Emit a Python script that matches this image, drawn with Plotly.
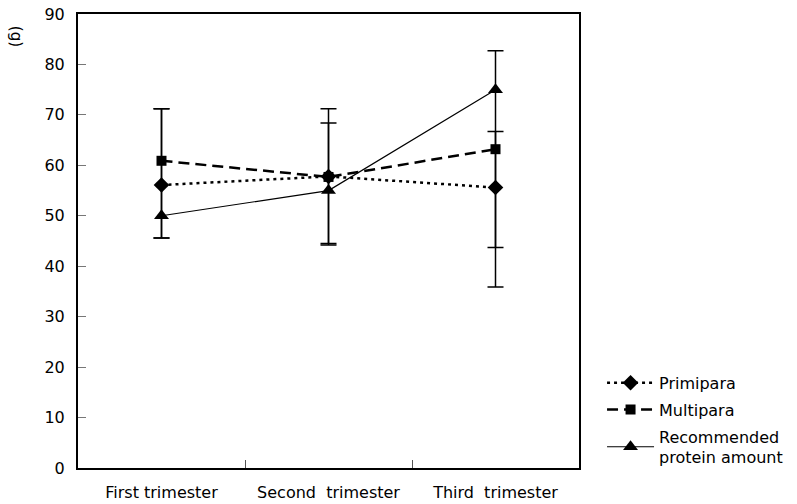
import plotly.graph_objects as go

categories = ["First trimester", "Second  trimester", "Third  trimester"]

primipara = [56.1, 57.8, 55.6]
primipara_plus = [15.1, 10.6, 11.1]
primipara_minus = [10.5, 13.3, 19.7]

multipara = [60.9, 57.7, 63.2]
multipara_plus = [10.3, 13.5, 19.5]
multipara_minus = [15.3, 13.5, 19.5]

recommended = [50, 55, 75]

FONT = "DejaVu Sans, Liberation Sans, Arial, sans-serif"

fig = go.Figure()

fig.add_trace(go.Scatter(
    x=categories, y=primipara, name="Primipara", mode="lines+markers",
    legendgroup="p",
    line=dict(color="black", width=2.5, dash="3px,4px"),
    marker=dict(symbol="diamond", size=12, color="black"),
    error_y=dict(type="data", symmetric=False, array=primipara_plus,
                 arrayminus=primipara_minus, color="black", thickness=1.5, width=8),
))
fig.add_trace(go.Scatter(
    x=categories, y=multipara, name="Multipara", mode="lines+markers",
    legendgroup="m",
    line=dict(color="black", width=2.5, dash="11px,6px"),
    marker=dict(symbol="square", size=10, color="black"),
    error_y=dict(type="data", symmetric=False, array=multipara_plus,
                 arrayminus=multipara_minus, color="black", thickness=1.5, width=8),
))
fig.add_trace(go.Scatter(
    x=categories, y=recommended, name="Recommended<br>protein amount",
    mode="lines+markers", legendgroup="r",
    line=dict(color="black", width=1.2),
    marker=dict(symbol="triangle-up", size=13, color="black"),
))

fig.update_layout(
    width=797, height=504,
    margin=dict(l=78, r=218, t=14, b=36, autoexpand=False),
    paper_bgcolor="white", plot_bgcolor="white",
    font=dict(family=FONT, size=16, color="black"),
    showlegend=True,
    legend=dict(x=1.046, xanchor="left", y=0.225, yanchor="top",
                font=dict(size=16), traceorder="grouped", tracegroupgap=3,
                itemwidth=47, bgcolor="rgba(0,0,0,0)"),
    xaxis=dict(
        type="category", range=[-0.5, 2.5],
        showline=True, linecolor="black", linewidth=2, mirror=True,
        ticks="inside", ticklen=8, tickcolor="#555", tickwidth=1,
        tickson="boundaries", showgrid=False, zeroline=False,
        tickfont=dict(size=16), automargin=False, ticklabelstandoff=9,
    ),
    yaxis=dict(
        range=[0, 90], dtick=10,
        showline=True, linecolor="black", linewidth=2, mirror=True,
        ticks="inside", ticklen=8, tickcolor="#777", tickwidth=1,
        showgrid=False, zeroline=False, tickfont=dict(size=16),
        ticklabelstandoff=8, automargin=False,
    ),
    annotations=[dict(
        text="(g)", xref="paper", yref="paper", x=-0.124, y=0.95,
        xanchor="center", yanchor="middle",
        showarrow=False, textangle=90, font=dict(size=15),
    )],
)

fig.write_html(
    "out.html",
    config={"displayModeBar": False},
    post_script="document.body.style.margin='0';document.body.style.padding='0';",
)
